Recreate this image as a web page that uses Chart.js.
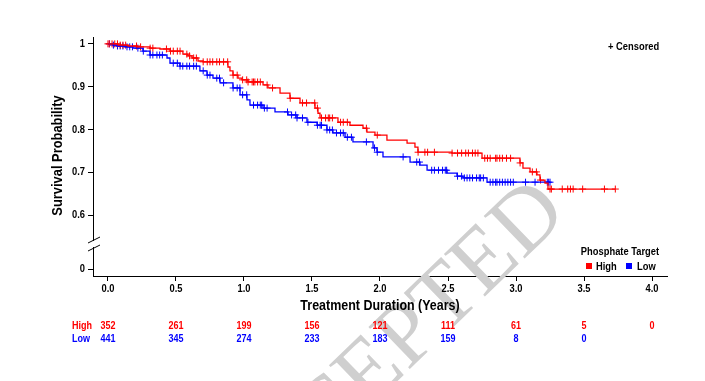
<!DOCTYPE html>
<html><head><meta charset="utf-8">
<script src="https://cdn.jsdelivr.net/npm/chart.js@4/dist/chart.umd.min.js"></script>
<style>html,body{margin:0;padding:0;background:#fff;overflow:hidden}</style>
</head><body><canvas id="c" width="705" height="381"></canvas>
<script>
// ---- Data ----
const highTimes = [0,0.074,0.147,0.213,0.309,0.382,0.456,0.551,0.588,0.618,0.662,0.699,0.882,0.897,0.919,0.956,0.985,1.029,1.140,1.176,1.265,1.338,1.412,1.522,1.544,1.559,1.691,1.779,1.875,1.904,1.963,2.051,2.199,2.257,2.279,2.529,2.750,3.029,3.051,3.103,3.154,3.176,3.213,3.235,3.728];
const highSurv  = [1.000,0.997,0.995,0.993,0.990,0.988,0.983,0.976,0.972,0.967,0.960,0.958,0.946,0.937,0.927,0.920,0.916,0.911,0.904,0.897,0.885,0.873,0.862,0.850,0.838,0.827,0.817,0.810,0.803,0.794,0.787,0.775,0.768,0.759,0.747,0.745,0.733,0.722,0.710,0.701,0.694,0.682,0.675,0.661,0.661];
const lowTimes = [0,0.037,0.066,0.125,0.184,0.257,0.309,0.434,0.456,0.529,0.676,0.728,0.772,0.824,0.919,0.971,1.022,1.044,1.140,1.228,1.324,1.390,1.463,1.537,1.610,1.654,1.743,1.801,1.949,1.978,2.022,2.221,2.294,2.346,2.493,2.566,2.610,2.787,3.250];
const lowSurv  = [1.000,0.997,0.995,0.993,0.990,0.983,0.974,0.967,0.955,0.948,0.937,0.927,0.920,0.909,0.897,0.881,0.869,0.857,0.850,0.841,0.834,0.827,0.817,0.810,0.799,0.792,0.782,0.771,0.757,0.747,0.736,0.724,0.717,0.705,0.698,0.691,0.687,0.677,0.677];
const highCensor = [0.00,0.01,0.03,0.05,0.07,0.09,0.11,0.13,0.21,0.24,0.31,0.33,0.43,0.46,0.48,0.51,0.53,0.58,0.60,0.63,0.65,0.70,0.73,0.75,0.77,0.80,0.82,0.85,0.88,0.92,0.95,0.99,1.02,1.03,1.06,1.07,1.08,1.10,1.12,1.17,1.21,1.34,1.43,1.46,1.52,1.54,1.57,1.60,1.62,1.63,1.65,1.71,1.73,1.76,1.90,1.98,2.28,2.33,2.35,2.40,2.53,2.57,2.60,2.63,2.65,2.68,2.70,2.72,2.77,2.79,2.81,2.85,2.86,2.88,2.90,2.93,2.96,3.03,3.12,3.15,3.18,3.25,3.26,3.34,3.38,3.40,3.42,3.49,3.65,3.73];
const lowCensor = [0.01,0.04,0.07,0.09,0.11,0.14,0.16,0.18,0.22,0.26,0.31,0.33,0.36,0.38,0.40,0.48,0.51,0.53,0.55,0.58,0.60,0.63,0.65,0.70,0.73,0.75,0.80,0.82,0.85,0.92,0.95,0.97,0.99,1.02,1.07,1.10,1.12,1.13,1.15,1.17,1.32,1.35,1.38,1.39,1.43,1.47,1.54,1.56,1.57,1.61,1.63,1.65,1.68,1.71,1.73,1.76,1.79,1.90,1.96,1.98,2.17,2.27,2.29,2.38,2.40,2.43,2.46,2.48,2.49,2.57,2.60,2.62,2.64,2.66,2.68,2.71,2.73,2.74,2.76,2.81,2.83,2.85,2.86,2.88,2.90,2.92,2.94,2.96,2.98,3.07,3.14,3.23,3.24,3.25];
const riskTimes = [0,0.5,1.0,1.5,2.0,2.5,3.0,3.5,4.0];
const riskHigh = [352,261,199,156,121,111,61,5,0];
const riskLow  = [441,345,274,233,183,159,8,0];
const xTicks = [0,0.5,1.0,1.5,2.0,2.5,3.0,3.5,4.0];
const xTickLabels = ['0.0','0.5','1.0','1.5','2.0','2.5','3.0','3.5','4.0'];
const yTicks = [0,0.6,0.7,0.8,0.9,1.0];
const yTickLabels = ['0','0.6','0.7','0.8','0.9','1'];
const groupNames = ['High','Low'];

// ---- Helpers ----
const RED = '#ff0000', BLUE = '#0000ff';
const FONT = "'Liberation Sans', Arial, sans-serif";
const BREAK_POS = 0.474;           // where the "0" tick sits below the axis break
const mapY = v => (v === 0 ? BREAK_POS : v);
function survAt(times, surv, t){ let s = surv[0]; for (let i=0;i<times.length;i++){ if (times[i] <= t) s = surv[i]; } return s; }
const curve = (t, s) => t.map((x,i)=>({x, y:s[i]}));
const cens = (c, t, s) => c.map(x=>({x, y: survAt(t, s, x)}));

// narrow-looking text: horizontally compressed
function txt(ctx, s, x, y, align, size, color, sx, rot){
  ctx.save();
  ctx.translate(x, y);
  if (rot) ctx.rotate(rot);
  ctx.scale(sx, 1);
  ctx.font = 'bold ' + size + 'px ' + FONT;
  ctx.fillStyle = color; ctx.textAlign = align; ctx.textBaseline = 'middle';
  ctx.fillText(s, 0, 0);
  ctx.restore();
}

const extras = {
  id:'extras',
  beforeDatasetsDraw(chart){
    const ctx = chart.ctx;
    ctx.save();
    ctx.translate(553,198);
    ctx.rotate(-44*Math.PI/180);
    ctx.font = "90px 'Liberation Serif', 'DejaVu Serif', serif";
    ctx.fillStyle = '#cfcfcf';
    ctx.textAlign = 'right'; ctx.textBaseline = 'middle';
    ctx.fillText('ACCEPTED', 0, 0);
    ctx.restore();
  },
  afterDraw(chart){
    const ctx = chart.ctx, xs = chart.scales.x, ys = chart.scales.y;
    const ca = chart.chartArea, ax = ca.left;
    // axis break
    const c = Math.round((ys.getPixelForValue(BREAK_POS) + ys.getPixelForValue(0.6))/2) + 2;
    ctx.save();
    ctx.fillStyle = '#fff';
    ctx.fillRect(ax-2, c-3, 4, 6);
    ctx.strokeStyle = '#000'; ctx.lineWidth = 1;
    ctx.beginPath();
    ctx.moveTo(ax-5, c-1); ctx.lineTo(ax+7, c-7);
    ctx.moveTo(ax-5, c+7); ctx.lineTo(ax+7, c+1);
    ctx.stroke();
    ctx.restore();
    // tick labels
    yTicks.forEach((v,i) => txt(ctx, yTickLabels[i], ax-8, ys.getPixelForValue(mapY(v)), 'right', 11, '#000', 0.85));
    xTicks.forEach((v,i) => txt(ctx, xTickLabels[i], xs.getPixelForValue(v), ca.bottom + 13, 'center', 11, '#000', 0.85));
    // axis titles
    txt(ctx, 'Treatment Duration (Years)', (ca.left+ca.right)/2, 306, 'center', 14, '#000', 0.89);
    txt(ctx, 'Survival Probability', 58, (ca.top+ca.bottom)/2 - 1, 'center', 14, '#000', 0.92, -Math.PI/2);
    // censored note
    txt(ctx, '+ Censored', 608, 47, 'left', 11, '#000', 0.85);
    // legend
    txt(ctx, 'Phosphate Target', 620, 252, 'center', 11, '#000', 0.85);
    ctx.fillStyle = RED; ctx.fillRect(586, 263, 6, 6);
    txt(ctx, groupNames[0], 596, 266.5, 'left', 11, '#000', 0.85);
    ctx.fillStyle = BLUE; ctx.fillRect(626, 263, 6, 6);
    txt(ctx, groupNames[1], 637, 266.5, 'left', 11, '#000', 0.85);
    // risk table
    const rows = [[riskHigh, RED, 326, groupNames[0]], [riskLow, BLUE, 339, groupNames[1]]];
    rows.forEach(([vals, col, y, name]) => {
      txt(ctx, name, 72, y, 'left', 11, col, 0.82);
      vals.forEach((v,i) => txt(ctx, String(v), xs.getPixelForValue(riskTimes[i]), y, 'center', 11, col, 0.82));
    });
  }
};

new Chart(document.getElementById('c'), {
  type: 'scatter',
  data: {
    datasets: [
      {label:'High', data: curve(highTimes, highSurv), showLine:true, stepped:true, borderColor:RED, borderWidth:1.3, pointRadius:0, fill:false},
      {label:'Low', data: curve(lowTimes, lowSurv), showLine:true, stepped:true, borderColor:BLUE, borderWidth:1.3, pointRadius:0, fill:false},
      {label:'High censored', data: cens(highCensor, highTimes, highSurv), showLine:false, pointStyle:'cross', pointRadius:3.5, borderColor:RED, borderWidth:1, backgroundColor:RED},
      {label:'Low censored', data: cens(lowCensor, lowTimes, lowSurv), showLine:false, pointStyle:'cross', pointRadius:3.5, borderColor:BLUE, borderWidth:1, backgroundColor:BLUE}
    ]
  },
  options: {
    responsive:false, animation:false, devicePixelRatio:1,
    layout:{padding:{left:49.6, right:38, top:37, bottom:66.6}},
    plugins:{legend:{display:false}, tooltip:{enabled:false}},
    scales:{
      x:{
        type:'linear', min:-0.11, max:4.11,
        afterFit: s => { s.height = 38.4; },
        afterBuildTicks: s => { s.ticks = xTicks.map(v=>({value:v})); },
        grid:{drawOnChartArea:false, drawTicks:true, tickLength:5, color:'#000'},
        border:{display:true, color:'#000', width:1},
        ticks:{display:false, autoSkip:false},
        title:{display:false}
      },
      y:{
        type:'linear', min:0.458, max:1.016,
        afterFit: s => { s.width = 43.4; },
        afterBuildTicks: s => { s.ticks = yTicks.map(v=>({value:mapY(v)})); },
        grid:{drawOnChartArea:false, drawTicks:true, tickLength:5, color:'#000'},
        border:{display:true, color:'#000', width:1},
        ticks:{display:false, autoSkip:false},
        title:{display:false}
      }
    }
  },
  plugins:[extras]
});
</script></body></html>
